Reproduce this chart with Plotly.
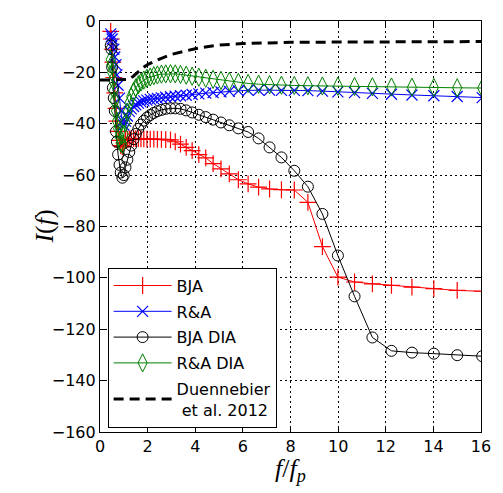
import plotly.graph_objects as go

# frequency grid f/f_p
f = [0.45, 0.48, 0.51, 0.54, 0.58, 0.62, 0.67, 0.71, 0.76, 0.82, 0.87, 0.94,
     1.00, 1.07, 1.15, 1.23, 1.31, 1.41, 1.50, 1.61, 1.72, 1.84, 1.97, 2.11,
     2.26, 2.41, 2.58, 2.76, 2.96, 3.16, 3.38, 3.62, 3.87, 4.15, 4.44, 4.75,
     5.08, 5.43, 5.81, 6.22, 6.66, 7.12, 7.62, 8.16, 8.73, 9.34, 9.99, 10.69,
     11.44, 12.24, 13.10, 14.02, 15.00, 16.05]

bja = [-4, -7, -11, -16, -22, -28, -34, -39, -43, -46.5, -48.5, -49,
       -47.5, -46.5, -46, -45.8, -45.8, -45.8, -45.8, -45.8, -45.9, -45.9, -46, -46,
       -46, -46.1, -46.1, -46.2, -46.3, -47, -47.9, -49.2, -50.5, -52, -53.3, -55.5,
       -57.6, -59.5, -61.8, -63.4, -64.7, -65.4, -65.7, -65.8, -70.6, -87.8, -99.7, -101.6,
       -102.3, -102.9, -103.6, -104.2, -104.9, -105.2]

ra = [-5, -6, -7, -9, -11, -14, -17, -21, -25, -30, -35, -39,
      -40.5, -39, -37, -35.2, -34.2, -33.3, -32.6, -32, -31.5, -31.1, -30.8, -30.5,
      -30.3, -30.1, -29.9, -29.7, -29.5, -29.3, -29.1, -28.9, -28.6, -28.4, -28.1, -27.9,
      -27.6, -27.4, -27.2, -27.0, -26.9, -26.9, -27.0, -27.0, -27.1, -27.3, -27.6, -27.9,
      -28.2, -28.5, -28.8, -29.1, -29.4, -29.8]

bja_dia = [-9.5, -11, -18, -26, -30, -35, -43, -47, -52, -56, -59, -61,
           -60, -57, -54, -51, -48.5, -46, -44, -42, -40.3, -38.8, -37.6, -36.6,
           -35.8, -35.1, -34.6, -34.2, -34.0, -34.0, -34.2, -34.8, -35.6, -36.5, -37.4, -38.4,
           -39.5, -40.6, -41.8, -43.2, -45.7, -49.2, -53.1, -58.3, -64.5, -75.1, -91.3, -107.2,
           -123.2, -128.4, -129.1, -129.5, -130.1, -130.5]

ra_dia = [-15, -17, -20, -23, -27, -31, -35, -39, -42, -45, -47.5, -48,
          -44, -39.5, -35.5, -32, -29.5, -27.5, -26, -24.8, -23.8, -23, -22.3, -21.8,
          -21.3, -21, -20.7, -20.6, -20.5, -20.6, -20.8, -21.1, -21.5, -21.9, -22.3, -22.7,
          -23.1, -23.5, -23.9, -24.3, -24.6, -24.8, -25.0, -25.1, -25.2, -25.3, -25.4, -25.5,
          -25.6, -25.7, -25.8, -25.9, -26.0, -26.1]

duen_f = [0, 0.5, 1.0, 1.2, 1.4, 1.6, 1.8, 2.0, 2.5, 3.0, 3.5, 4.0, 4.5, 5.0,
          6.0, 7.0, 8.0, 10.0, 12.0, 14.0, 16.0]
duen = [-23, -23, -23, -22.8, -21.5, -19.8, -18.2, -17, -14.8, -13, -11.8, -10.8,
        -10, -9.4, -8.8, -8.5, -8.3, -8.2, -8.1, -8.1, -8.0]

x_ticks = [0, 2, 4, 6, 8, 10, 12, 14, 16]
y_ticks = [0, -20, -40, -60, -80, -100, -120, -140, -160]

fig = go.Figure()
fig.add_trace(go.Scatter(x=f, y=bja, name="BJA", mode="lines+markers", legendgroup="a",
                         line=dict(color="#ff0000", width=1),
                         marker=dict(symbol="cross-thin-open", size=12,
                                     line=dict(color="#ff0000", width=1.2))))
fig.add_trace(go.Scatter(x=f, y=ra, name="R&A", mode="lines+markers", legendgroup="b",
                         line=dict(color="#0000ff", width=1),
                         marker=dict(symbol="x-thin-open", size=11,
                                     line=dict(color="#0000ff", width=1.2))))
fig.add_trace(go.Scatter(x=f, y=bja_dia, name="BJA DIA", mode="lines+markers", legendgroup="c",
                         line=dict(color="#000000", width=1),
                         marker=dict(symbol="circle-open", size=11,
                                     line=dict(color="#000000", width=1))))
fig.add_trace(go.Scatter(x=f, y=ra_dia, name="R&A DIA", mode="lines+markers", legendgroup="d",
                         line=dict(color="#008000", width=1),
                         marker=dict(symbol="diamond-tall-open", size=13,
                                     line=dict(color="#008000", width=1))))
fig.add_trace(go.Scatter(x=duen_f, y=duen, name="Duennebier<br> et al. 2012",
                         mode="lines", legendgroup="e",
                         line=dict(color="#000000", width=3, dash="10px,6px")))

axis_common = dict(showline=True, linecolor="black", linewidth=1.2, mirror="ticks",
                   ticks="inside", ticklen=5, tickwidth=1, tickcolor="black",
                   showgrid=True, gridcolor="black", gridwidth=1, griddash="2px,3px",
                   zeroline=False,
                   tickfont=dict(family="DejaVu Sans", size=16, color="black"))

fig.update_xaxes(range=[0, 16], tickvals=x_ticks, **axis_common)
fig.update_yaxes(range=[-160, 0], tickvals=y_ticks, **axis_common)

fig.update_layout(
    width=503, height=493,
    margin=dict(l=100, r=15, t=20, b=61),
    paper_bgcolor="white", plot_bgcolor="white",
    showlegend=True,
    legend=dict(x=0.02, y=0.40, xanchor="left", yanchor="top",
                bgcolor="white", bordercolor="black", borderwidth=1,
                font=dict(family="DejaVu Sans", size=16, color="black"),
                itemwidth=58, tracegroupgap=2),
    annotations=[
        dict(text="<i>I</i>(<i>f</i>)", xref="paper", yref="paper",
             x=-0.19, y=0.5, textangle=-90, showarrow=False,
             font=dict(family="Liberation Serif", size=26, color="black")),
        dict(text="<i>f</i>/<i>f<sub>p</sub></i>", xref="paper", yref="paper",
             x=0.5, y=-0.092, showarrow=False, yanchor="middle",
             font=dict(family="Liberation Serif", size=26, color="black")),
    ],
)

# remove the default page margin so the 503x493 figure fills the window exactly
fig.write_html("out.html", config={"displayModeBar": False},
               post_script="document.body.style.margin='0';document.body.style.overflow='hidden';")
